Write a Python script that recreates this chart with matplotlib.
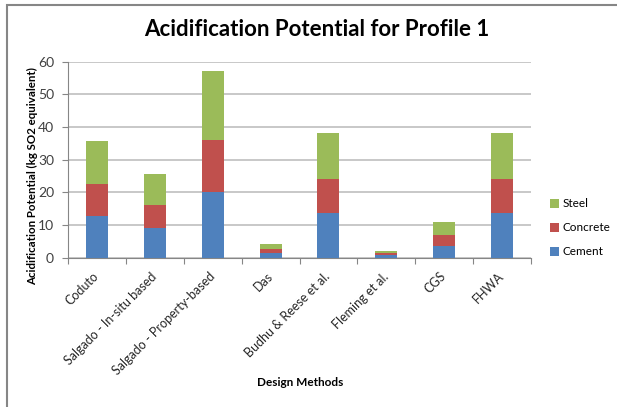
import numpy as np
import matplotlib.pyplot as plt
from matplotlib.patches import Rectangle
from matplotlib.transforms import ScaledTranslation

# ------------------- Data -------------------
methods = ['Coduto', 'Salgado - In-situ based', 'Salgado - Property-based', 'Das',
           'Budhu & Reese et al.', 'Fleming et al.', 'CGS', 'FHWA']
cement = [12.8, 9.0, 20.2, 1.3, 13.6, 0.8, 3.7, 13.6]
concrete = [9.7, 7.1, 15.9, 1.3, 10.5, 0.5, 3.2, 10.5]
steel = [13.2, 9.5, 20.9, 1.5, 14.2, 0.6, 4.1, 14.0]

blue = '#4F81BD'
red = '#C0504D'
green = '#9BBB59'

plt.rcParams['font.family'] = ['Lato', 'DejaVu Sans']

W, H = 617, 407
fig = plt.figure(figsize=(W / 100, H / 100), dpi=100)
ax = fig.add_axes([68 / W, 1 - 257.7 / H, 463 / W, 196 / H])

# outer chart border
fig.patches.append(Rectangle((7 / W, -0.05), 1.1, 1 - 5 / H + 0.05,
                             transform=fig.transFigure, fill=False,
                             edgecolor='#868686', linewidth=1.5))

x = np.arange(len(methods))
w = 0.38
cement = np.array(cement)
concrete = np.array(concrete)
steel = np.array(steel)
ax.bar(x, cement, w, color=blue, label='Cement', zorder=3)
ax.bar(x, concrete, w, bottom=cement, color=red, label='Concrete', zorder=3)
ax.bar(x, steel, w, bottom=cement + concrete, color=green, label='Steel', zorder=3)

ax.set_xlim(-0.5, len(methods) - 0.5)
ax.set_ylim(0, 60)
ax.set_yticks(range(0, 61, 10))
ax.yaxis.grid(True, color='#bfbfbf', linewidth=1.2, zorder=0)

# category ticks between bars, labels centred under bars
ax.set_xticks(np.arange(-0.5, len(methods)), minor=False)
ax.set_xticklabels([])
ax.set_xticks(x, minor=True)
ax.set_xticklabels(methods, minor=True, rotation=45, ha='right', va='center',
                   rotation_mode='anchor', fontsize=9, color='#262626')
shift = ScaledTranslation(4 / 100, 0, fig.dpi_scale_trans)
for lbl in ax.get_xticklabels(minor=True):
    lbl.set_transform(lbl.get_transform() + shift)
ax.tick_params(axis='x', which='minor', length=0, pad=12)
ax.tick_params(axis='x', which='major', length=4, color='#868686')
ax.tick_params(axis='y', length=4, color='#868686', labelsize=10,
               labelcolor='#404040', pad=6)

for side in ['top', 'right']:
    ax.spines[side].set_visible(False)
for side in ['left', 'bottom']:
    ax.spines[side].set_color('#868686')

fig.text(317 / W, 1 - 30 / H, 'Acidification Potential for Profile 1',
         fontsize=16, fontweight='bold', ha='center', va='center')
fig.text(33 / W, 1 - 176 / H, 'Acidification Potential (kg SO2 equivalent)',
         fontsize=8.3, fontweight='bold', rotation=90, ha='center', va='center')
fig.text(300 / W, 1 - 383 / H, 'Design Methods', fontsize=8.5,
         fontweight='bold', ha='center', va='center')

handles, labels = ax.get_legend_handles_labels()
ax.legend(handles[::-1], labels[::-1], loc='center left',
          bbox_to_anchor=(1.03, 0.152), frameon=False, fontsize=8.5,
          handlelength=0.8, handleheight=0.8, handletextpad=0.3,
          labelspacing=1.1, borderaxespad=0)

fig.savefig('out.png', dpi=100)
